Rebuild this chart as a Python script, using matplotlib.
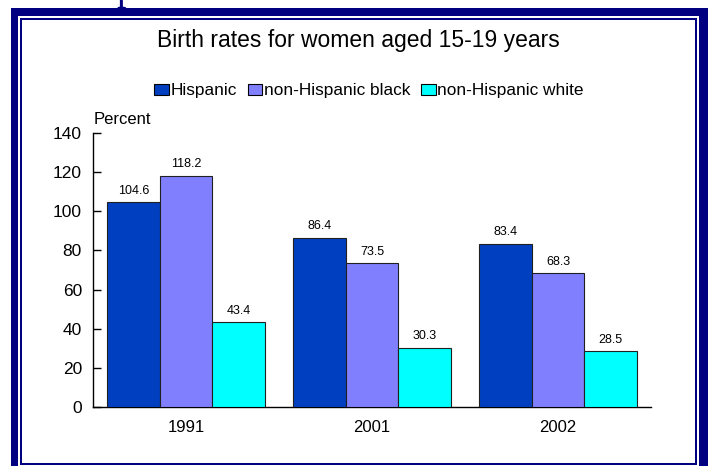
import matplotlib
matplotlib.use("Agg")
import matplotlib.pyplot as plt
from matplotlib.patches import Rectangle, Patch
from matplotlib.transforms import IdentityTransform
import numpy as np

plt.rcParams['font.family'] = ['Liberation Sans', 'DejaVu Sans']

years = ["1991", "2001", "2002"]
series = ["Hispanic", "non-Hispanic black", "non-Hispanic white"]
hispanic = [104.6, 86.4, 83.4]
nh_black = [118.2, 73.5, 68.3]
nh_white = [43.4, 30.3, 28.5]
values = [hispanic, nh_black, nh_white]
colors = ["#0040C0", "#8080FF", "#00FFFF"]
yticks = [0, 20, 40, 60, 80, 100, 120, 140]

W, H = 709, 466
fig = plt.figure(figsize=(W / 100, H / 100), dpi=100)
fig.patch.set_facecolor("white")

navy = "#000080"
def rect(x0, y0top, x1, y1top, color, z):
    r = Rectangle((x0, H - y1top), x1 - x0, y1top - y0top, transform=IdentityTransform(),
                  facecolor=color, edgecolor="none", zorder=z)
    fig.add_artist(r)

# slide frame
rect(11, 8, 708, 480, navy, -10)
rect(18, 16, 699, 480, "white", -9)
rect(20, 18, 697, 465, navy, -8)
rect(22, 20, 695, 463, "white", -7)

# clipped slide title descender
fig.text(116, H, "p", transform=IdentityTransform(), family="Liberation Serif",
         fontsize=27, color=navy, ha="left", va="baseline")

ax = fig.add_axes([93 / W, (H - 407) / H, (651 - 93) / W, (407 - 133) / H])
ax.set_facecolor("none")
x = np.arange(len(years))
w = 0.282
for i, (vals, c) in enumerate(zip(values, colors)):
    bars = ax.bar(x + (i - 1) * w, vals, w, color=c, edgecolor="#202020", linewidth=0.8, zorder=3)
    for b, v in zip(bars, vals):
        ax.annotate(f"{v}", (b.get_x() + b.get_width() / 2, v), xytext=(0, 4),
                    textcoords="offset points", ha="center", va="bottom", fontsize=9)

ax.set_xlim(-0.5, 2.5)
ax.set_ylim(0, 140)
ax.set_yticks(yticks)
ax.set_xticks(x)
ax.set_xticklabels(years)
ax.spines["top"].set_visible(False)
ax.spines["right"].set_visible(False)
for s in ("left", "bottom"):
    ax.spines[s].set_linewidth(1.0)
    ax.spines[s].set_color("black")
ax.tick_params(axis="y", direction="in", length=6, width=1, pad=8, labelsize=12.5)
ax.tick_params(axis="x", length=0, pad=9, labelsize=12)

fig.text(94 / W, 1 - 119 / H, "Percent", ha="left", va="center", fontsize=12)
fig.text(358 / W, 1 - 40 / H, "Birth rates for women aged 15-19 years", ha="center",
         va="center", fontsize=16.5)

handles = [Patch(facecolor=c, edgecolor="black", linewidth=0.8) for c in colors]
fig.legend(handles, series, loc="center", bbox_to_anchor=(369 / W, 1 - 91 / H), ncol=3,
           frameon=False, fontsize=12.4, handlelength=0.85, handleheight=0.6,
           handletextpad=0.1, columnspacing=0.62, borderaxespad=0, borderpad=0)

fig.savefig("out.png", dpi=100)
